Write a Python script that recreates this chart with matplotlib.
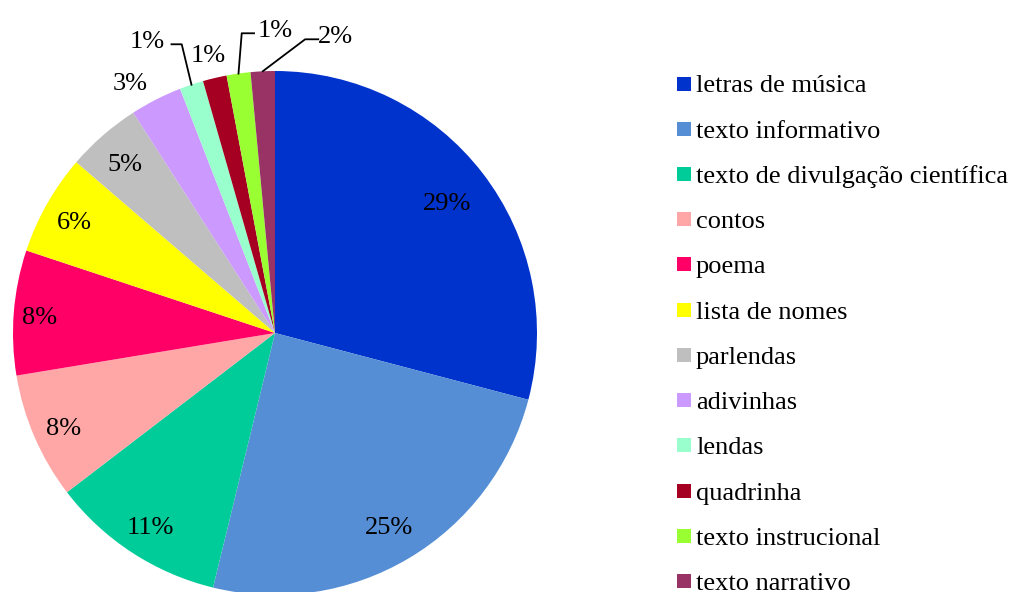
import numpy as np
import matplotlib.pyplot as plt
from matplotlib.patches import Rectangle

plt.rcParams['font.family'] = ['Liberation Serif', 'DejaVu Serif']

# data
categories = ["letras de música", "texto informativo", "texto de divulgação científica",
              "contos", "poema", "lista de nomes", "parlendas", "adivinhas",
              "lendas", "quadrinha", "texto instrucional", "texto narrativo"]
shares = [29.1, 24.7, 10.8, 7.8, 7.7, 6.2, 4.6, 3.2, 1.47, 1.47, 1.47, 1.49]
pct_labels = ["29%", "25%", "11%", "8%", "8%", "6%", "5%", "3%", "1%", "1%", "1%", "2%"]
colors = ["#0033CC", "#558ED5", "#00CC99", "#FFA7A7", "#FF0066", "#FFFF00",
          "#BFBFBF", "#CC99FF", "#99FFCC", "#A50021", "#99FF33", "#993366"]

# label distance from centre (in radii) for the labels sitting on the slices
label_r = [0.83, 0.85, 0.87, 0.88, 0.90, 0.88, 0.87]
# outside labels: text position and leader elbow
outside_txt = {7: (-0.553, 0.966), 8: (-0.489, 1.126), 9: (-0.256, 1.073),
               10: (0.0, 1.168), 11: (0.229, 1.145)}
leaders = {8: [(-0.356, 1.102), (-0.395, 1.102)],
           10: [(-0.127, 1.144), (-0.080, 1.144)],
           11: [(0.115, 1.121), (0.165, 1.121)]}

FS = 19
px = 1 / 262  # one pixel in data units

fig = plt.figure(figsize=(10.13, 5.92), dpi=100)
ax = fig.add_axes([0, 0, 1, 1])

wedges, _ = ax.pie(shares, colors=colors, startangle=90, counterclock=False,
                   radius=1.0, center=(0, 0), frame=True,
                   wedgeprops=dict(linewidth=0))
ax.set_xlim(-275 * px, 738 * px)
ax.set_ylim(-259 * px, 333 * px)
ax.axis('off')

for i, w in enumerate(wedges):
    mid = np.deg2rad((w.theta1 + w.theta2) / 2)
    if i < len(label_r):
        r = label_r[i]
        tx, ty = r * np.cos(mid), r * np.sin(mid)
    else:
        tx, ty = outside_txt[i]
        if i in leaders:
            pts = [(np.cos(mid), np.sin(mid))] + leaders[i]
            xs, ys = zip(*pts)
            ax.plot(xs, ys, color='black', lw=1.3)
    ax.text(tx, ty - 4 * px, pct_labels[i], fontsize=FS, ha='center', va='center')

# legend on the right
leg_x = 402 * px
box = 14 * px
for i, (cat, col) in enumerate(zip(categories, colors)):
    yc = (333 - (83.5 + 45.23 * i)) * px
    ax.add_patch(Rectangle((leg_x, yc - box / 2), box, box, color=col, lw=0))
    ax.text(leg_x + box + 5 * px, yc - 9 * px, cat, fontsize=FS,
            ha='left', va='baseline')

fig.savefig("out.png", dpi=100)
